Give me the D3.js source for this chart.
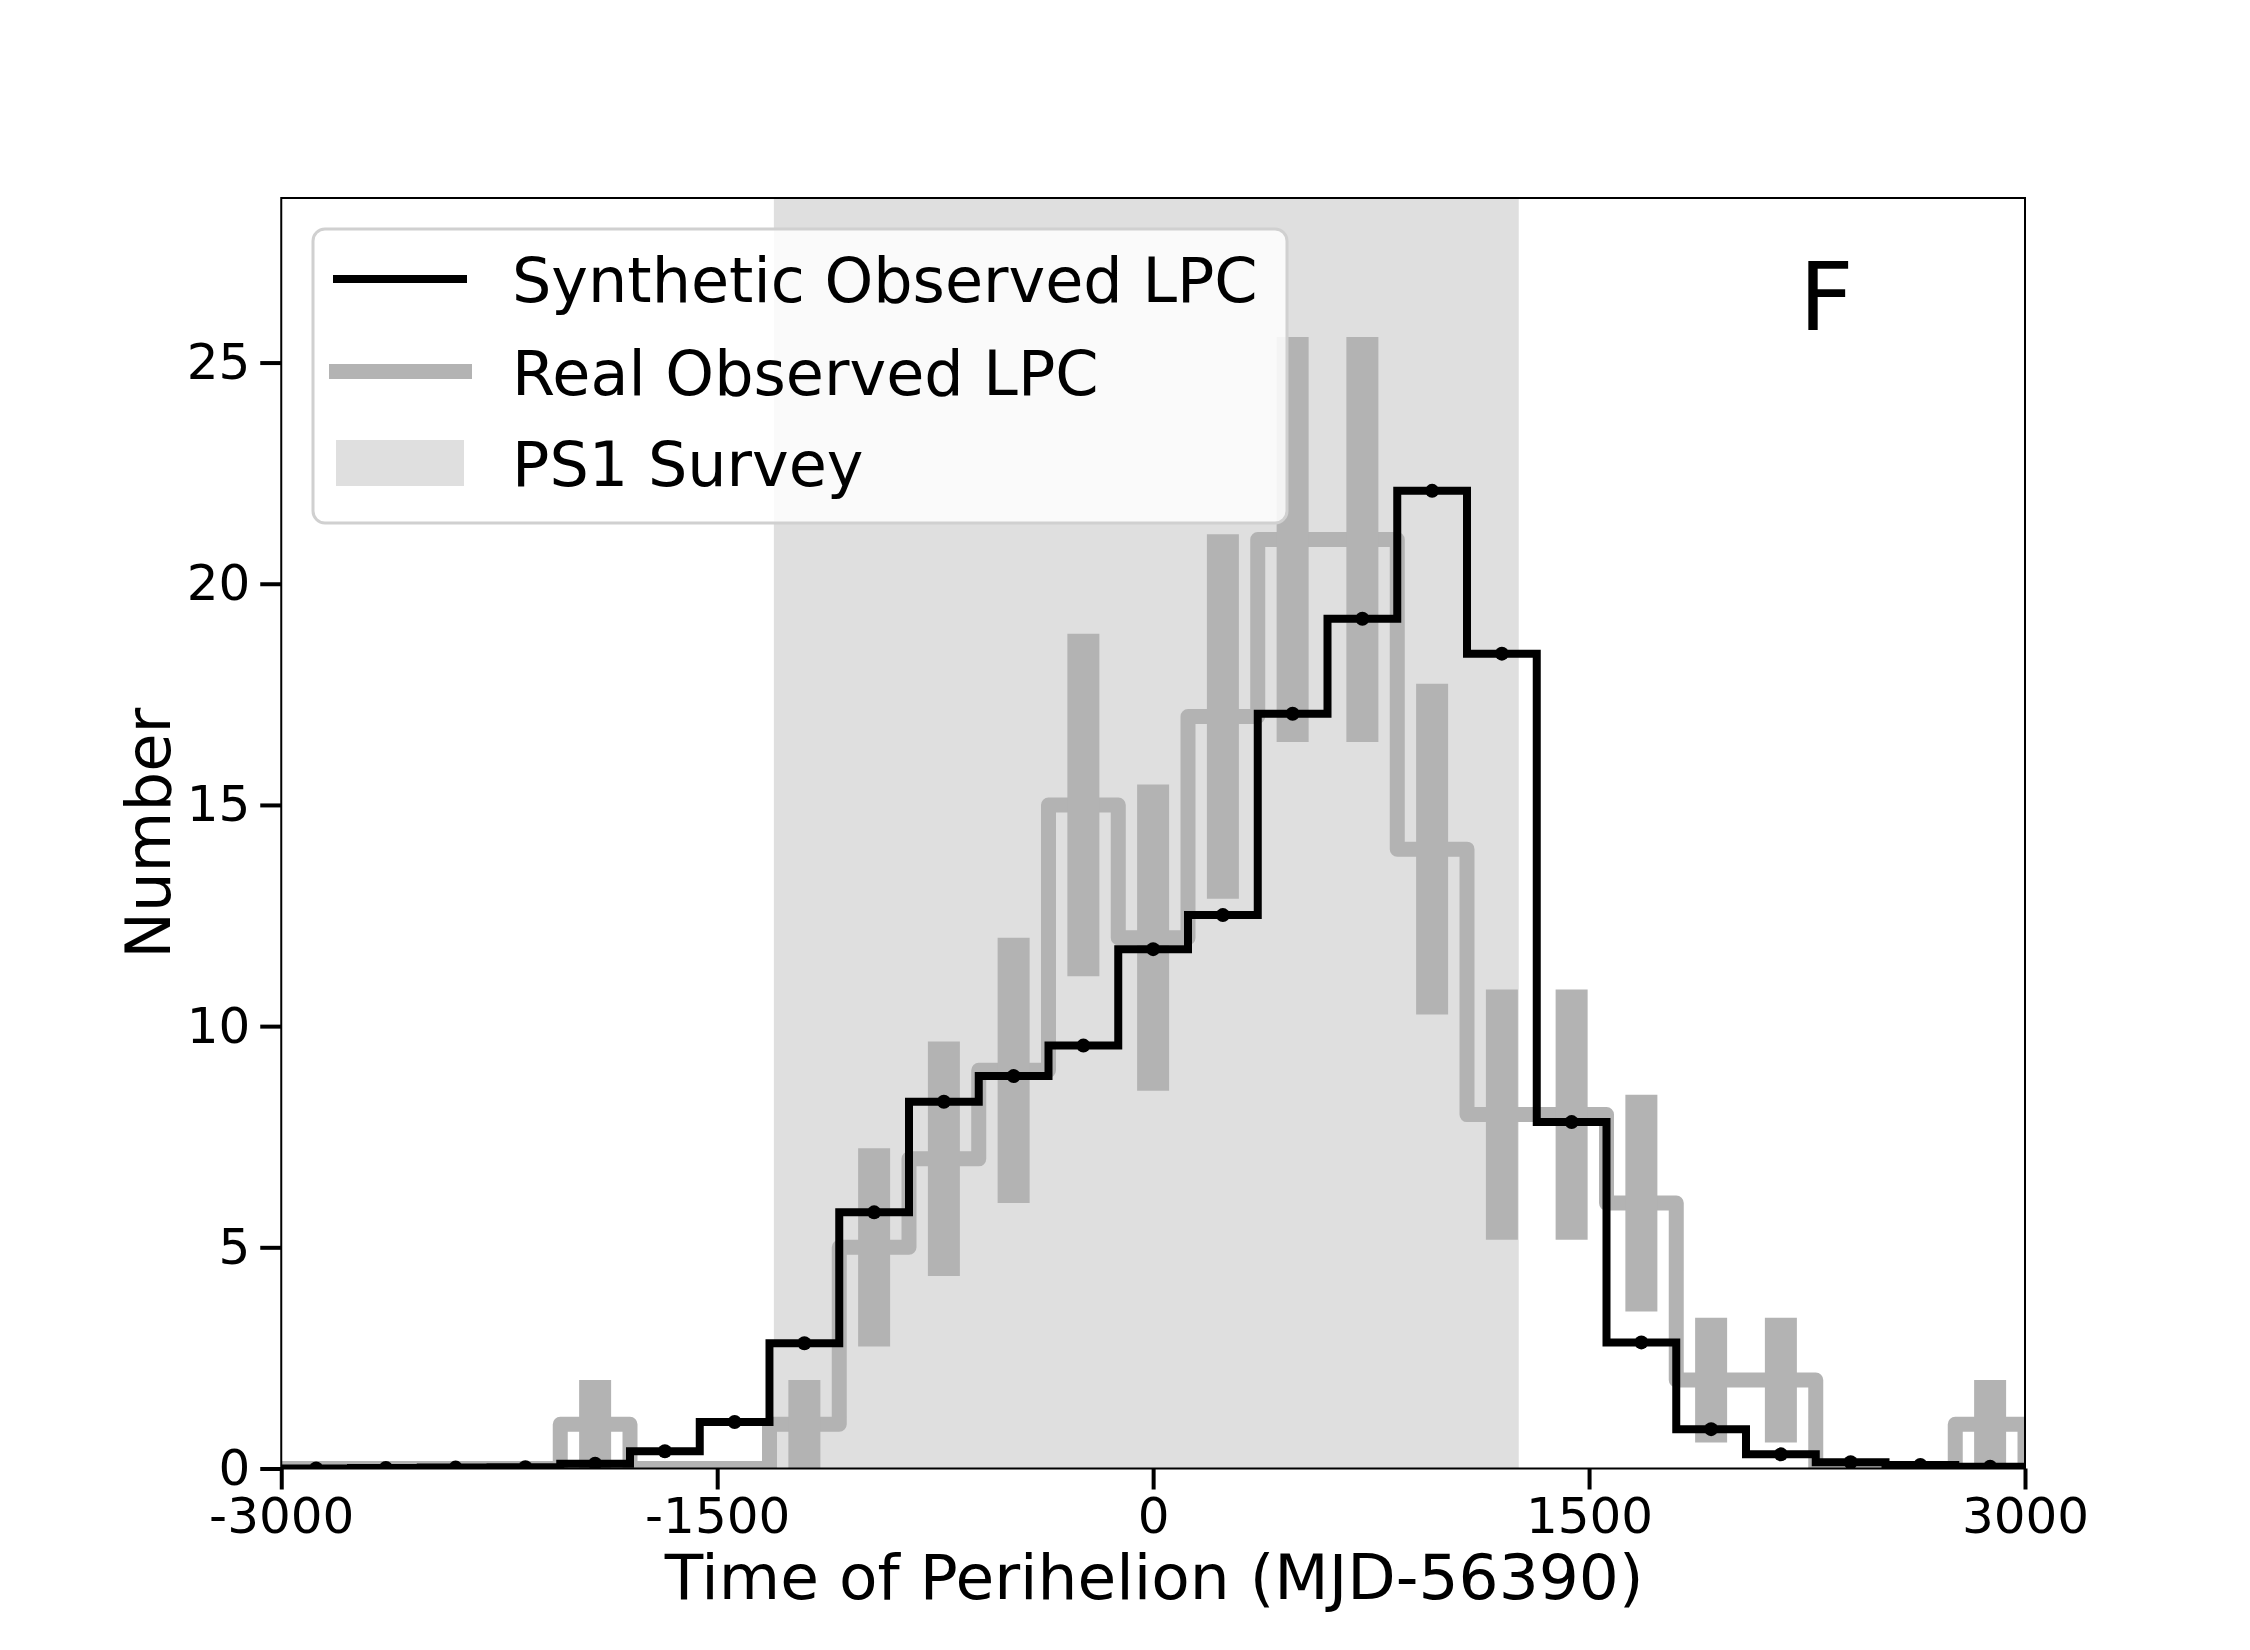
<!DOCTYPE html>
<html>
<head>
<meta charset="utf-8">
<script src="https://cdn.jsdelivr.net/npm/d3@7"></script>
<style>
    body { margin: 0; background: #fff; }
    svg text { font-family: 'DejaVu Sans', sans-serif; fill: #000; }
    .axis path.domain { display: none; }
</style>
</head>
<body>
<div id="chart"></div>
<script>
// bin centres (MJD-56390), bin width 240
const binCenters = [-2880, -2640, -2400, -2160, -1920, -1680, -1440, -1200, -960, -720,
    -480, -240, 0, 240, 480, 720, 960, 1200, 1440, 1680, 1920, 2160, 2400, 2640, 2880];
const binWidth = 240;

const syntheticCounts = [0.0, 0.01, 0.02, 0.03, 0.11, 0.39, 1.05, 2.83, 5.79, 8.29,
    8.87, 9.56, 11.74, 12.51, 17.06, 19.21, 22.1, 18.42, 7.83, 2.85, 0.89, 0.32, 0.14, 0.08, 0.04];

const realCounts = [0, 0, 0, 0, 1, 0, 0, 1, 5, 7, 9, 15, 12, 17, 21, 21, 14, 8, 8, 6, 2, 2, 0, 0, 1];
const realErrors = [0, 0, 0, 0, 1, 0, 0, 1, 2.24, 2.65, 3, 3.87, 3.46, 4.12, 4.58, 4.58,
    3.74, 2.83, 2.83, 2.45, 1.41, 1.41, 0, 0, 1];

const surveyRange = [-1305, 1258];

const xTicks = [-3000, -1500, 0, 1500, 3000];
const yTicks = [0, 5, 10, 15, 20, 25];

const legendLabels = ['Synthetic Observed LPC', 'Real Observed LPC', 'PS1 Survey'];

class PerihelionHistogram {

    constructor(_config) {
        this.config = {
            parentElement: _config.parentElement,
            containerWidth: 2250,
            containerHeight: 1650,
            margin: { top: 198, right: 225, bottom: 181.5, left: 281.25 },
        };
        this.initVis();
    }

    initVis() {
        let vis = this;

        vis.width = vis.config.containerWidth - vis.config.margin.left - vis.config.margin.right;
        vis.height = vis.config.containerHeight - vis.config.margin.top - vis.config.margin.bottom;

        vis.xScale = d3.scaleLinear()
            .domain([-3000, 3000])
            .range([0, vis.width]);

        vis.yScale = d3.scaleLinear()
            .domain([0, 28.72])
            .range([vis.height, 0]);

        vis.svg = d3.select(vis.config.parentElement).append('svg')
            .attr('width', vis.config.containerWidth)
            .attr('height', vis.config.containerHeight);

        vis.chart = vis.svg.append('g')
            .attr('transform', `translate(${vis.config.margin.left},${vis.config.margin.top})`);

        vis.chart.append('clipPath')
            .attr('id', 'plot-clip')
            .append('rect')
            .attr('width', vis.width)
            .attr('height', vis.height);

        vis.plot = vis.chart.append('g')
            .attr('clip-path', 'url(#plot-clip)');

        vis.xAxis = d3.axisBottom(vis.xScale)
            .tickValues(xTicks)
            .tickFormat(d => String(d))
            .tickSize(21)
            .tickPadding(8);

        vis.yAxis = d3.axisLeft(vis.yScale)
            .tickValues(yTicks)
            .tickFormat(d => String(d))
            .tickSize(21)
            .tickPadding(10);

        vis.renderVis();
    }

    renderVis() {
        let vis = this;
        const x = vis.xScale, y = vis.yScale;

        // PS1 survey window
        vis.plot.append('rect')
            .attr('x', x(surveyRange[0]))
            .attr('y', 0)
            .attr('width', x(surveyRange[1]) - x(surveyRange[0]))
            .attr('height', vis.height)
            .attr('fill', '#dfdfdf');

        const stepPoints = counts => {
            let pts = [[binCenters[0] - binWidth / 2, 0]];
            binCenters.forEach((c, i) => pts.push([c - binWidth / 2, counts[i]]));
            const last = binCenters[binCenters.length - 1] + binWidth / 2;
            pts.push([last, counts[counts.length - 1]]);
            pts.push([last, 0]);
            return pts;
        };

        const stepLine = d3.line()
            .x(d => x(d[0]))
            .y(d => y(d[1]))
            .curve(d3.curveStepAfter);

        // real observed histogram
        vis.plot.append('path')
            .attr('d', stepLine(stepPoints(realCounts)))
            .attr('fill', 'none')
            .attr('stroke', '#b3b3b3')
            .attr('stroke-width', 15)
            .attr('stroke-linejoin', 'round');

        const errData = binCenters.map((c, i) => ({ c, v: realCounts[i], e: realErrors[i] }))
            .filter(d => d.e > 0);

        vis.plot.selectAll('.err-bar')
            .data(errData)
            .join('line')
            .attr('class', 'err-bar')
            .attr('x1', d => x(d.c))
            .attr('x2', d => x(d.c))
            .attr('y1', d => y(d.v - d.e))
            .attr('y2', d => y(d.v + d.e))
            .attr('stroke', '#b3b3b3')
            .attr('stroke-width', 32);

        // synthetic histogram
        vis.plot.append('path')
            .attr('d', stepLine(stepPoints(syntheticCounts)))
            .attr('fill', 'none')
            .attr('stroke', '#000')
            .attr('stroke-width', 8)
            .attr('stroke-linejoin', 'miter');

        vis.plot.selectAll('.synth-dot')
            .data(binCenters)
            .join('circle')
            .attr('class', 'synth-dot')
            .attr('cx', d => x(d))
            .attr('cy', (d, i) => y(syntheticCounts[i]))
            .attr('r', 7)
            .attr('fill', '#000');

        // frame
        vis.chart.append('rect')
            .attr('width', vis.width)
            .attr('height', vis.height)
            .attr('fill', 'none')
            .attr('stroke', '#000')
            .attr('stroke-width', 2);

        vis.chart.append('g')
            .attr('class', 'axis x-axis')
            .attr('transform', `translate(0,${vis.height})`)
            .call(vis.xAxis)
            .call(g => g.selectAll('line').attr('stroke', '#000').attr('stroke-width', 4))
            .call(g => g.selectAll('text').attr('font-size', 50).attr('font-family', 'DejaVu Sans'));

        vis.chart.append('g')
            .attr('class', 'axis y-axis')
            .call(vis.yAxis)
            .call(g => g.selectAll('line').attr('stroke', '#000').attr('stroke-width', 4))
            .call(g => g.selectAll('text').attr('font-size', 50).attr('font-family', 'DejaVu Sans'));

        // axis labels
        vis.chart.append('text')
            .attr('x', vis.width / 2 + 1)
            .attr('y', vis.height + 130.5)
            .attr('text-anchor', 'middle')
            .attr('font-size', 63)
            .text('Time of Perihelion (MJD-56390)');

        vis.chart.append('text')
            .attr('transform', `translate(${170 - vis.config.margin.left},${vis.height / 2}) rotate(-90)`)
            .attr('text-anchor', 'middle')
            .attr('font-size', 62.5)
            .text('Number');

        // panel letter
        vis.chart.append('text')
            .attr('x', 1799 - vis.config.margin.left)
            .attr('y', 330 - vis.config.margin.top)
            .attr('font-size', 95)
            .text('F');

        vis.renderLegend();
    }

    renderLegend() {
        let vis = this;
        const legend = vis.svg.append('g')
            .attr('transform', 'translate(313,229)');

        legend.append('rect')
            .attr('width', 974)
            .attr('height', 294)
            .attr('rx', 12)
            .attr('fill', '#fff')
            .attr('fill-opacity', 0.85)
            .attr('stroke', '#d0d0d0')
            .attr('stroke-width', 3);

        const rowY = [50, 142.5, 234];

        legend.append('line')
            .attr('x1', 20).attr('x2', 154)
            .attr('y1', rowY[0]).attr('y2', rowY[0])
            .attr('stroke', '#000')
            .attr('stroke-width', 8);

        legend.append('line')
            .attr('x1', 16).attr('x2', 159)
            .attr('y1', rowY[1]).attr('y2', rowY[1])
            .attr('stroke', '#b3b3b3')
            .attr('stroke-width', 15);

        legend.append('rect')
            .attr('x', 23).attr('y', rowY[2] - 23)
            .attr('width', 128).attr('height', 46)
            .attr('fill', '#dfdfdf');

        legend.selectAll('.legend-label')
            .data(legendLabels)
            .join('text')
            .attr('class', 'legend-label')
            .attr('x', 199)
            .attr('y', (d, i) => rowY[i] + 23)
            .attr('font-size', 62)
            .text(d => d);
    }
}

new PerihelionHistogram({ parentElement: '#chart' });
</script>
</body>
</html>
